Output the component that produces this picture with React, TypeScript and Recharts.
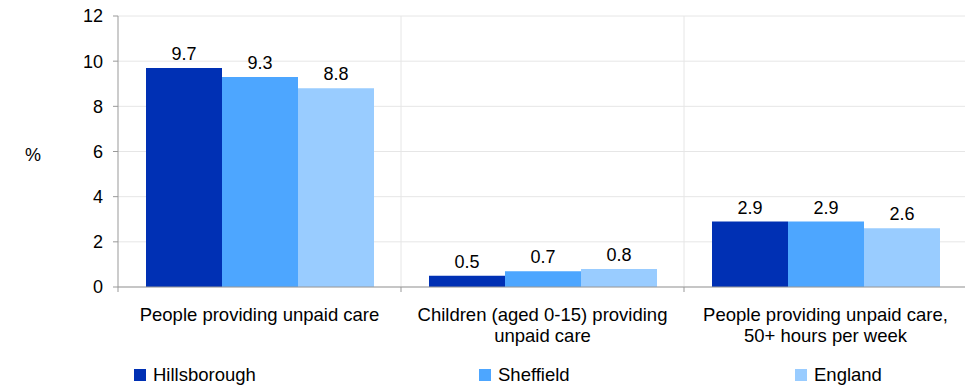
import { BarChart, Bar, XAxis, YAxis, CartesianGrid, LabelList } from "recharts";

const categories = [
  "People providing unpaid care",
  "Children (aged 0-15) providing\nunpaid care",
  "People providing unpaid care,\n50+ hours per week",
];
const hillsborough = [9.7, 0.5, 2.9];
const sheffield = [9.3, 0.7, 2.9];
const england = [8.8, 0.8, 2.6];
const yTicks = [0, 2, 4, 6, 8, 10, 12];

const seriesNames = ["Hillsborough", "Sheffield", "England"];
const colors = ["#0030b4", "#4da6ff", "#99ccff"];

const data = categories.map((name, i) => ({
  name,
  hillsborough: hillsborough[i],
  sheffield: sheffield[i],
  england: england[i],
}));

const FONT = "'Liberation Sans', Arial, sans-serif";

function CategoryTick(props: any) {
  const { x, y, payload, width } = props;
  const band = width / categories.length;
  const lines = String(payload.value).split("\n");
  return (
    <g>
      <line x1={x - band / 2} x2={x - band / 2} y1={y - 8} y2={y - 3} stroke="#999" />
      <text x={x} y={y + 26} textAnchor="middle" fontSize={18.5} fill="#000" fontFamily={FONT}>
        {lines.map((l: string, i: number) => (
          <tspan key={i} x={x} dy={i === 0 ? 0 : 21}>
            {l}
          </tspan>
        ))}
      </text>
    </g>
  );
}

export default function App() {
  const legendX = [134, 479, 795];
  return (
    <div style={{ position: "absolute", left: 0, top: 0, width: 965, height: 385, fontFamily: FONT }}>
      <BarChart
        width={965}
        height={385}
        data={data}
        margin={{ top: 16, right: -2, bottom: 38, left: 0 }}
        barSize={76}
        barGap={0}
      >
        <CartesianGrid
          stroke="#e6e6e6"
          verticalCoordinatesGenerator={({ offset }: any) =>
            categories.slice(1).map((_, i) => offset.left + (offset.width * (i + 1)) / categories.length)
          }
        />
        <XAxis
          dataKey="name"
          height={60}
          interval={0}
          axisLine={{ stroke: "#999" }}
          tickLine={false}
          tick={<CategoryTick />}
        />
        <YAxis
          width={118}
          domain={[0, 12]}
          ticks={yTicks}
          tickSize={5}
          tickMargin={10}
          axisLine={{ stroke: "#999" }}
          tickLine={{ stroke: "#999" }}
          tick={{ fontSize: 18, fill: "#000", fontFamily: FONT }}
        />
        {["hillsborough", "sheffield", "england"].map((key, i) => (
          <Bar key={key} dataKey={key} fill={colors[i]} isAnimationActive={false}>
            <LabelList
              dataKey={key}
              position="top"
              offset={8}
              style={{ fontSize: 18, fill: "#000", fontFamily: FONT }}
            />
          </Bar>
        ))}
      </BarChart>
      <div style={{ position: "absolute", left: 25, top: 145, fontSize: 18 }}>%</div>
      {seriesNames.map((s, i) => (
        <div
          key={s}
          style={{
            position: "absolute",
            left: legendX[i],
            top: 364,
            display: "flex",
            alignItems: "center",
            fontSize: 18.5,
          }}
        >
          <span style={{ width: 12, height: 12, background: colors[i], display: "inline-block", marginRight: 7 }} />
          <span>{s}</span>
        </div>
      ))}
    </div>
  );
}
